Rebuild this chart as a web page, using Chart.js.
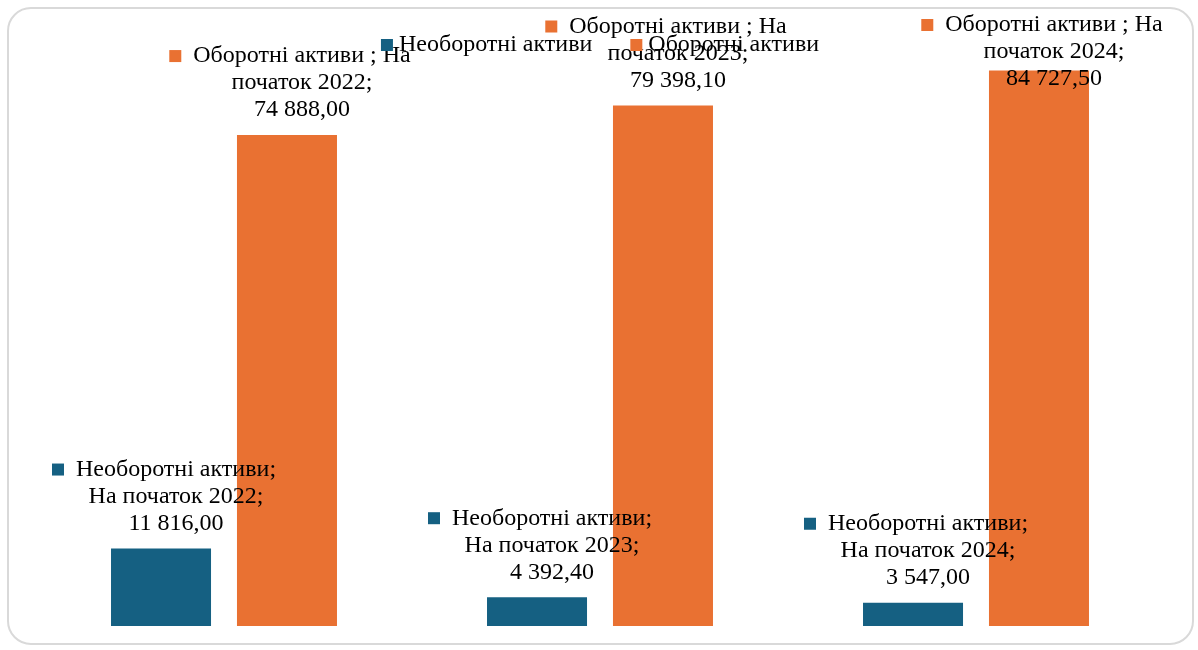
<!DOCTYPE html>
<html>
<head>
<meta charset="utf-8">
<script src="https://cdn.jsdelivr.net/npm/chart.js@4/dist/chart.umd.min.js"></script>
<style>
  html, body { margin: 0; padding: 0; background: #fff; }
  #wrap { position: relative; width: 1198px; height: 650px; }
  #frame { position: absolute; left: 7px; top: 7px; width: 1183px; height: 634px;
           border: 2px solid #d9d9d9; border-radius: 24px; }
  canvas { position: absolute; left: 0; top: 0; }
</style>
</head>
<body>
<div id="wrap">
  <div id="frame"></div>
  <canvas id="chart" width="1198" height="650"></canvas>
</div>
<script>
// ---- дані ----
const categories = ['На початок 2022', 'На початок 2023', 'На початок 2024'];
const seriesNames = ['Необоротні активи', 'Оборотні активи '];
const nonCurrentAssets = [11816.00, 4392.40, 3547.00];
const currentAssets = [74888.00, 79398.10, 84727.50];
const seriesColors = ['#156082', '#E97132'];

const FONT = '24px "Liberation Serif", "Times New Roman", serif';

function fmt(v) {
  const parts = v.toFixed(2).split('.');
  return parts[0].replace(/\B(?=(\d{3})+(?!\d))/g, ' ') + ',' + parts[1];
}

function wrap(ctx, text, maxW) {
  const words = text.split(' ');
  const lines = [];
  let cur = '';
  words.forEach(w => {
    const test = cur ? cur + ' ' + w : w;
    if (cur && ctx.measureText(test).width > maxW) {
      lines.push(cur);
      cur = w;
    } else {
      cur = test;
    }
  });
  if (cur) lines.push(cur);
  return lines;
}

// ---- підписи даних з маркером ----
const labelPlugin = {
  id: 'labels',
  afterDatasetsDraw(chart) {
    const ctx = chart.ctx;
    ctx.save();
    ctx.font = FONT;
    ctx.fillStyle = '#000';
    ctx.textBaseline = 'middle';
    ctx.textAlign = 'center';
    const lineH = 27;
    chart.data.datasets.forEach((ds, di) => {
      const meta = chart.getDatasetMeta(di);
      meta.data.forEach((bar, i) => {
        const lines = wrap(ctx, seriesNames[di] + '; ' + categories[i] + ';', 225);
        lines.push(fmt(ds.data[i]));
        const maxW = Math.max(...lines.map(l => ctx.measureText(l).width));
        const blockW = 24 + maxW;
        const left = bar.x + 3 - blockW / 2;
        let firstY = bar.y - 25 - (lines.length - 1) * lineH;
        if (firstY < 25) firstY = 25;
        ctx.fillStyle = seriesColors[di];
        ctx.fillRect(left, firstY - 6, 12, 12);
        ctx.fillStyle = '#000';
        lines.forEach((l, k) => {
          ctx.fillText(l, left + 24 + maxW / 2, firstY + k * lineH);
        });
      });
    });
    ctx.restore();
  }
};

// ---- легенда поверх області графіка ----
const legendPlugin = {
  id: 'topLegend',
  afterDraw(chart) {
    const ctx = chart.ctx;
    ctx.save();
    ctx.font = FONT;
    ctx.textBaseline = 'middle';
    ctx.textAlign = 'left';
    const names = seriesNames.map(n => n.trim());
    const widths = names.map(n => 12 + 6 + ctx.measureText(n).width);
    const gap = 38;
    const total = widths.reduce((a, b) => a + b, 0) + gap * (names.length - 1);
    const area = chart.chartArea;
    let x = (area.left + area.right) / 2 - total / 2;
    const y = 45;
    names.forEach((n, i) => {
      ctx.fillStyle = seriesColors[i];
      ctx.fillRect(x, y - 6, 12, 12);
      ctx.fillStyle = '#000';
      ctx.fillText(n, x + 18, y);
      x += widths[i] + gap;
    });
    ctx.restore();
  }
};

new Chart(document.getElementById('chart'), {
  type: 'bar',
  data: {
    labels: categories,
    datasets: [
      { label: seriesNames[0], data: nonCurrentAssets, backgroundColor: seriesColors[0] },
      { label: seriesNames[1], data: currentAssets, backgroundColor: seriesColors[1] }
    ]
  },
  options: {
    responsive: false,
    animation: false,
    layout: { padding: { left: 36, right: 34, top: 36, bottom: 24 } },
    categoryPercentage: 0.67,
    barPercentage: 0.794,
    plugins: { legend: { display: false }, tooltip: { enabled: false } },
    scales: {
      x: { display: false },
      y: { display: false, min: 0, max: 90000 }
    }
  },
  plugins: [labelPlugin, legendPlugin]
});
</script>
</body>
</html>
